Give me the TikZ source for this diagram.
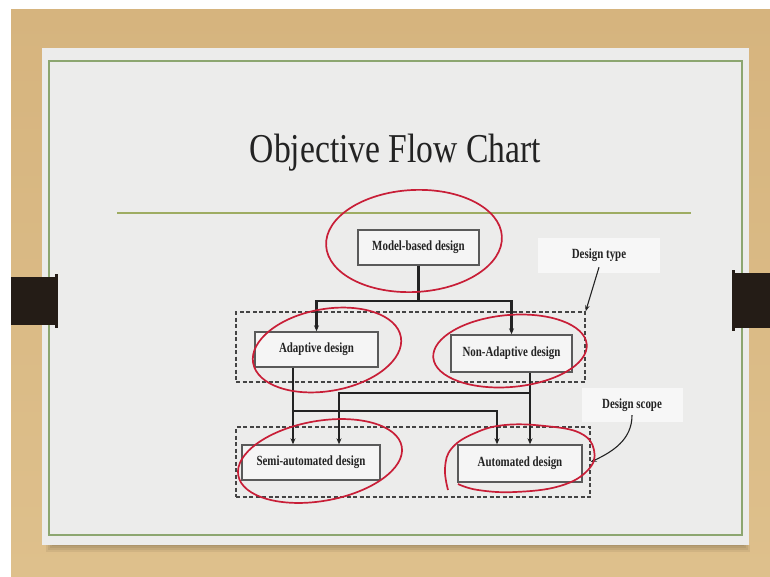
\documentclass[tikz,border=0pt]{standalone}
\usepackage{fontspec}
\setmainfont{Liberation Serif}
\newfontfamily\titlefont[FakeStretch = 0.82]{Liberation Serif}
\newfontfamily\chartfont[FakeStretch = 0.78]{Liberation Serif}
\usetikzlibrary{calc, arrows.meta}

\definecolor{desktop}{RGB}{214,180,126}
\definecolor{desklow}{RGB}{222,192,140}
\definecolor{slidebg}{RGB}{236,236,235}
\definecolor{framegreen}{RGB}{140,166,112}
\definecolor{rulegreen}{RGB}{158,172,98}
\definecolor{tabbrown}{RGB}{36,28,22}
\definecolor{ink}{RGB}{35,35,35}
\definecolor{markred}{RGB}{200,30,55}

\begin{document}
\begin{tikzpicture}[x = 1pt, y = -1pt,
    chartbox/.style = {draw = ink!75, line width = 1.4pt, fill = white!96!black,
        font = \chartfont\bfseries\fontsize{14}{16}\selectfont, text = ink, inner sep = 0pt},
    groupbox/.style = {draw = ink!85, dash pattern = on 4pt off 2.5pt, line width = 1.3pt, inner sep = 0pt},
    note/.style = {fill = white!97!black, font = \chartfont\bfseries\fontsize{14}{16}\selectfont,
        text = ink, inner sep = 0pt},
    link/.style = {draw = ink, line width = 2.2pt},
    flow/.style = {link, -{Stealth[length = 6pt, width = 5pt]}},
    pointer/.style = {draw = ink, line width = 1.1pt, -{Stealth[length = 6pt, width = 4.5pt]}},
    redmark/.style = {draw = markred, line width = 1.7pt}]

    \useasboundingbox (0, 0) rectangle (770, 577);
    \fill[white] (0, 0) rectangle (770, 577);
    \shade[top color = desktop, bottom color = desklow] (11, 10) rectangle (770, 577);
    \foreach \d in {0, 2, 4, 6}
        \fill[black, opacity = 0.06] (46 + \d, 545) rectangle (750 - \d, 552 - \d);
    \fill[slidebg] (42, 48) rectangle (749, 545);
    \draw[framegreen, line width = 2pt] (49, 61) rectangle (742, 535);

    \fill[tabbrown] (11, 277) rectangle (56, 325);
    \fill[tabbrown] (55, 274) rectangle (58, 328);
    \fill[tabbrown] (735, 273) rectangle (770, 328);
    \fill[tabbrown] (732, 270) rectangle (735, 331);

    \node[anchor = base, font = \titlefont\fontsize{41}{45}\selectfont, text = ink] (title)
        at (395.5, 163) {Objective Flow Chart};
    \draw[rulegreen, line width = 2pt] (117, 213) -- (691, 213);

    \node[groupbox, minimum width = 349, minimum height = 70] (typegroup) at (410.5, 347) {};
    \node[groupbox, minimum width = 354, minimum height = 70] (scopegroup) at (413, 462) {};

    \node[chartbox, minimum width = 121, minimum height = 35] (model) at (418.5, 247.5) {Model-based design};
    \node[chartbox, minimum width = 123, minimum height = 35] (adaptive) at (316.5, 349.5) {Adaptive design};
    \node[chartbox, minimum width = 121, minimum height = 37] (nonadaptive) at (511.5, 353.5) {Non-Adaptive design};
    \node[chartbox, minimum width = 138, minimum height = 35] (semi) at (311, 462.5) {Semi-automated design};
    \node[chartbox, minimum width = 124, minimum height = 37] (auto) at (520, 463.5) {Automated design};

    \draw[link] (model.south) -- ++(0, 35) coordinate (split);
    \draw[flow] (split) -| (adaptive.north);
    \draw[flow] (split) -| (nonadaptive.north);

    \coordinate (adaptout) at ([xshift = -23.5]adaptive.south);
    \coordinate (adaptfork) at ($(adaptout) + (0, 43)$);
    \coordinate (nonadaptout) at ([xshift = 18.5]nonadaptive.south);
    \coordinate (nonadaptfork) at ($(nonadaptout) + (0, 20)$);
    \draw[flow] (adaptout) -- (adaptout |- semi.north);
    \draw[flow] (adaptfork) -| ([xshift = -23]auto.north);
    \draw[flow] (nonadaptout) -- (nonadaptout |- auto.north);
    \draw[flow] (nonadaptfork) -| ([xshift = 28]semi.north);

    \node[note, minimum width = 122, minimum height = 35] (typelbl) at (599, 255.5) {Design type};
    \node[note, minimum width = 101, minimum height = 34] (scopelbl) at (632, 405) {Design scope};
    \draw[pointer] ([yshift = 6]typelbl.south) -- (typegroup.north east);
    \draw[pointer] ([yshift = 7]scopelbl.south) to[out = -90, in = 25] (scopegroup.east);

    \draw[redmark, rotate around = {3:(414, 241)}] (414, 241) ellipse [x radius = 88, y radius = 51];
    \draw[redmark, rotate around = {10:(327, 350)}] (327, 350) ellipse [x radius = 75, y radius = 41];
    \draw[redmark, rotate around = {5:(510, 351)}] (510, 351) ellipse [x radius = 77, y radius = 36];
    \draw[redmark, rotate around = {10:(320, 461)}] (320, 461) ellipse [x radius = 83, y radius = 40];
    \draw[redmark] plot[smooth, tension = 0.7] coordinates {(448, 490) (445, 468) (452, 448) (475, 433)
        (505, 425) (545, 426) (580, 433) (594, 450) (588, 470) (560, 486) (515, 492) (478, 490) (458, 484)};
\end{tikzpicture}
\end{document}
